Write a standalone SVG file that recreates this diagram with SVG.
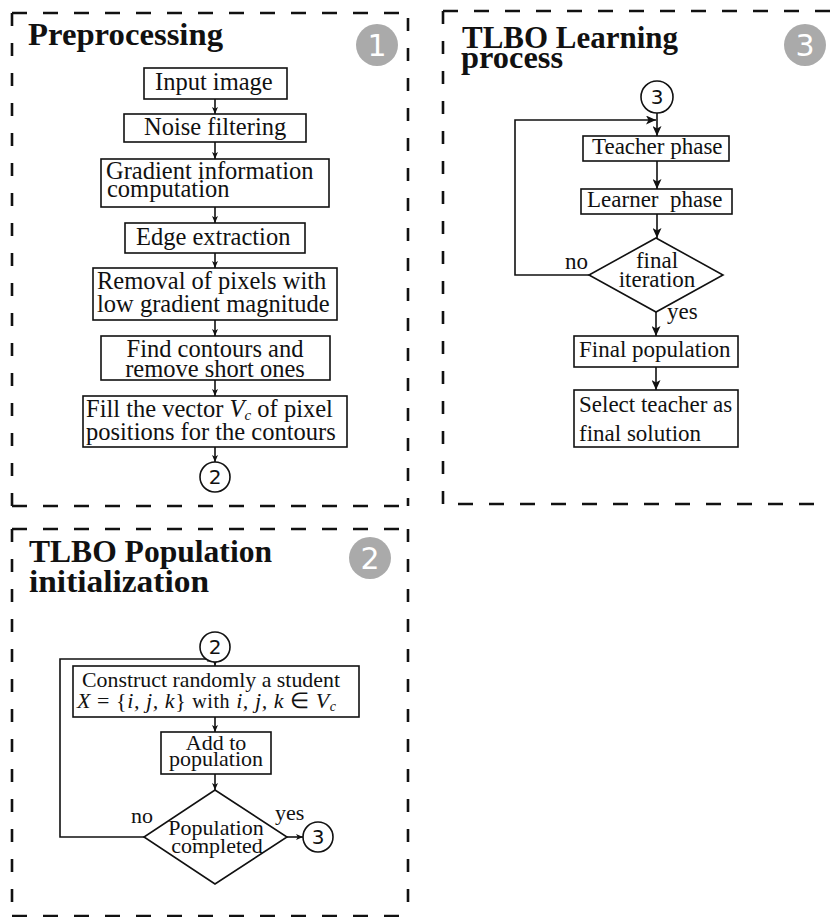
<svg xmlns="http://www.w3.org/2000/svg" width="830" height="917" viewBox="0 0 830 917">
<style>
  .dh { stroke:#111; stroke-width:2.6; stroke-dasharray:15 16; fill:none }
  .dv { stroke:#111; stroke-width:2.6; stroke-dasharray:13 17; fill:none }
  .box { fill:#fff; stroke:#111; stroke-width:1.6 }
  .ln { stroke:#111; stroke-width:1.6; fill:none }
  .t { font-family:"Liberation Serif","Times New Roman",serif; fill:#111 }
  .p1 { font-size:24.5px }
  .p2 { font-size:22px }
  .p3 { font-size:23px }
  .title { font-family:"Liberation Serif","Times New Roman",serif; font-weight:bold; font-size:31px; fill:#111 }
  .badge { fill:#aaaaaa }
  .badgeT { font-family:"DejaVu Sans",sans-serif; font-size:30px; fill:#fff; text-anchor:middle }
  .conn { fill:#fff; stroke:#111; stroke-width:1.6 }
  .connT { font-family:"DejaVu Sans",sans-serif; font-size:20px; fill:#111; text-anchor:middle }
  .mid { text-anchor:middle }
  .it { font-style:italic }
</style>
<defs>
  <marker id="ahS" markerWidth="8" markerHeight="6" refX="7" refY="3" orient="auto" markerUnits="userSpaceOnUse">
    <path d="M0,0 L7,3 L0,6 L1.8,3 Z" fill="#111"/>
  </marker>
  <marker id="ahL" markerWidth="11" markerHeight="9" refX="10" refY="4.5" orient="auto" markerUnits="userSpaceOnUse">
    <path d="M0,0 L10,4.5 L0,9 L2.5,4.5 Z" fill="#111"/>
  </marker>
</defs>

<!-- Dashed panels -->
<g id="frames">
  <path class="dh" d="M12,13 H408"/>
  <path class="dv" d="M12,13 V506"/>
  <path class="dv" d="M408,13 V506" stroke-dashoffset="-5"/>
  <path class="dh" d="M12,506 H408"/>

  <path class="dh" d="M443,11 H835"/>
  <path class="dv" d="M443,11 V504"/>
  <path class="dh" d="M458,504 H835"/>

  <path class="dh" d="M12,529 H408"/>
  <path class="dv" d="M12,529 V916"/>
  <path class="dv" d="M408,529 V916"/>
  <path class="dh" d="M12,916 H408"/>
</g>

<!-- Titles and badges -->
<g id="title1">
  <text class="title" x="28" y="45" textLength="195" lengthAdjust="spacingAndGlyphs">Preprocessing</text>
  <circle class="badge" cx="377" cy="45" r="21"/>
  <text class="badgeT" x="377" y="56">1</text>
</g>
<g id="title3">
  <text class="title" x="462" y="48" textLength="216" lengthAdjust="spacingAndGlyphs">TLBO Learning</text>
  <text class="title" x="461" y="68" textLength="102" lengthAdjust="spacingAndGlyphs">process</text>
  <circle class="badge" cx="805" cy="45" r="21"/>
  <text class="badgeT" x="805" y="56">3</text>
</g>
<g id="title2">
  <text class="title" x="29" y="562" textLength="243" lengthAdjust="spacingAndGlyphs">TLBO Population</text>
  <text class="title" x="29" y="592" textLength="180" lengthAdjust="spacingAndGlyphs">initialization</text>
  <circle class="badge" cx="370" cy="558" r="21"/>
  <text class="badgeT" x="370" y="569">2</text>
</g>

<!-- Connectors -->
<g id="connectors">
  <line class="ln" x1="215" y1="99" x2="215" y2="114" marker-end="url(#ahS)"/>
  <line class="ln" x1="215" y1="142" x2="215" y2="159" marker-end="url(#ahS)"/>
  <line class="ln" x1="215" y1="207" x2="215" y2="223" marker-end="url(#ahS)"/>
  <line class="ln" x1="215" y1="253" x2="215" y2="268" marker-end="url(#ahS)"/>
  <line class="ln" x1="215" y1="320" x2="215" y2="336" marker-end="url(#ahS)"/>
  <line class="ln" x1="215" y1="380" x2="215" y2="396" marker-end="url(#ahS)"/>
  <line class="ln" x1="215" y1="447" x2="215" y2="462" marker-end="url(#ahS)"/>

  <line class="ln" x1="657" y1="113" x2="657" y2="136" marker-end="url(#ahL)"/>
  <polyline class="ln" points="589,275 515,275 515,120 656,120" marker-end="url(#ahL)"/>
  <line class="ln" x1="657" y1="161" x2="657" y2="189" marker-end="url(#ahL)"/>
  <line class="ln" x1="657" y1="214" x2="657" y2="238" marker-end="url(#ahL)"/>
  <line class="ln" x1="656" y1="312" x2="656" y2="336" marker-end="url(#ahL)"/>
  <line class="ln" x1="656" y1="367" x2="656" y2="390" marker-end="url(#ahL)"/>

  <line class="ln" x1="215" y1="662" x2="215" y2="666" marker-end="url(#ahS)"/>
  <polyline class="ln" points="144,837 60,837 60,659 214,659" marker-end="url(#ahS)"/>
  <line class="ln" x1="215" y1="717" x2="215" y2="732" marker-end="url(#ahS)"/>
  <line class="ln" x1="215" y1="774" x2="215" y2="790" marker-end="url(#ahS)"/>
  <line class="ln" x1="287" y1="837" x2="303" y2="837" marker-end="url(#ahS)"/>
</g>

<!-- Panel 1 nodes -->
<g id="n-input">
  <rect class="box" x="144" y="68" width="143" height="31"/>
  <text class="t p1" x="155" y="90">Input image</text>
</g>
<g id="n-noise">
  <rect class="box" x="124" y="114" width="182" height="28"/>
  <text class="t p1" x="144" y="135">Noise filtering</text>
</g>
<g id="n-gradient">
  <rect class="box" x="101" y="159" width="228" height="48"/>
  <text class="t p1" x="106" y="179">Gradient information</text>
  <text class="t p1" x="107" y="197">computation</text>
</g>
<g id="n-edge">
  <rect class="box" x="125" y="223" width="180" height="30"/>
  <text class="t p1" x="136" y="245">Edge extraction</text>
</g>
<g id="n-removal">
  <rect class="box" x="93" y="268" width="244" height="52"/>
  <text class="t p1" x="97" y="289">Removal of pixels with</text>
  <text class="t p1" x="97" y="312">low gradient magnitude</text>
</g>
<g id="n-contours">
  <rect class="box" x="101" y="336" width="229" height="44"/>
  <text class="t p1 mid" x="215" y="357">Find contours and</text>
  <text class="t p1 mid" x="215" y="377">remove short ones</text>
</g>
<g id="n-fill">
  <rect class="box" x="83" y="396" width="264" height="51"/>
  <text class="t p1" x="86" y="417">Fill the vector <tspan class="it">V</tspan><tspan class="it" font-size="15" dy="3">c</tspan><tspan dy="-3"> of pixel</tspan></text>
  <text class="t p1" x="86" y="440">positions for the contours</text>
</g>
<g id="c2-out">
  <circle class="conn" cx="215" cy="477" r="15"/>
  <text class="connT" x="215" y="484">2</text>
</g>

<!-- Panel 3 nodes -->
<g id="c3-in">
  <circle class="conn" cx="657" cy="97" r="16"/>
  <text class="connT" x="657" y="104">3</text>
</g>
<g id="n-teacher">
  <rect class="box" x="583" y="136" width="146" height="25"/>
  <text class="t p3" x="592" y="154">Teacher phase</text>
</g>
<g id="n-learner">
  <rect class="box" x="581" y="189" width="151" height="25"/>
  <text class="t p3" x="587" y="207">Learner&#160; phase</text>
</g>
<g id="d-final">
  <polygon class="box" points="656,238 723,275 656,312 589,275"/>
  <text class="t p3 mid" x="657" y="268">final</text>
  <text class="t p3 mid" x="657" y="287">iteration</text>
  <text class="t p3" x="565" y="269">no</text>
  <text class="t p3" x="667" y="319">yes</text>
</g>
<g id="n-finalpop">
  <rect class="box" x="574" y="336" width="164" height="31"/>
  <text class="t p3" x="579" y="357">Final population</text>
</g>
<g id="n-select">
  <rect class="box" x="574" y="390" width="164" height="57"/>
  <text class="t p3" x="579" y="412">Select teacher as</text>
  <text class="t p3" x="579" y="441">final solution</text>
</g>

<!-- Panel 2 nodes -->
<g id="c2-in">
  <circle class="conn" cx="215" cy="647" r="15"/>
  <text class="connT" x="215" y="654">2</text>
</g>
<g id="n-construct">
  <rect class="box" x="73" y="666" width="286" height="51"/>
  <text class="t p2" x="82" y="687" textLength="258" lengthAdjust="spacingAndGlyphs">Construct randomly a student</text>
  <text class="t p2" x="77" y="708" textLength="259" lengthAdjust="spacing"><tspan class="it">X</tspan> = {<tspan class="it">i, j, k</tspan>} <tspan font-size="20">with</tspan> <tspan class="it">i, j, k</tspan> ∈ <tspan class="it">V</tspan><tspan class="it" font-size="14" dy="3">c</tspan></text>
</g>
<g id="n-add">
  <rect class="box" x="161" y="732" width="110" height="42"/>
  <text class="t p2 mid" x="216" y="750">Add to</text>
  <text class="t p2 mid" x="216" y="766">population</text>
</g>
<g id="d-completed">
  <polygon class="box" points="215,790 287,837 215,884 144,837"/>
  <text class="t p2 mid" x="216" y="835">Population</text>
  <text class="t p2 mid" x="217" y="853">completed</text>
  <text class="t p2" x="131" y="823">no</text>
  <text class="t p2" x="275" y="820">yes</text>
</g>
<g id="c3-out">
  <circle class="conn" cx="318" cy="837" r="15"/>
  <text class="connT" x="318" y="844">3</text>
</g>
</svg>
